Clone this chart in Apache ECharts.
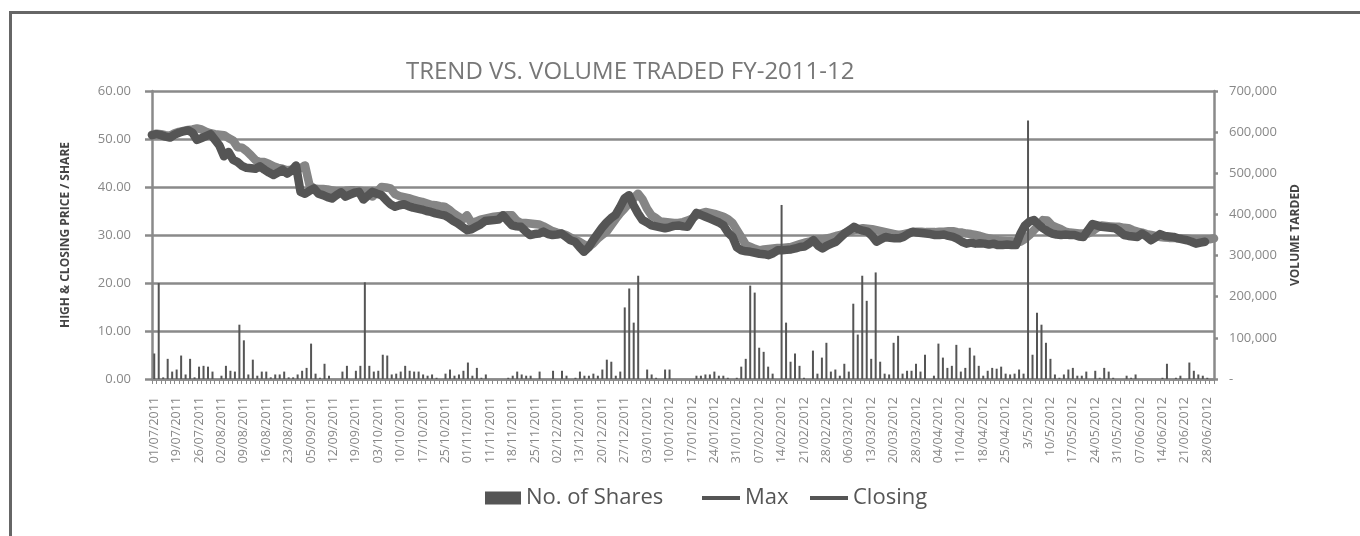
<!DOCTYPE html>
<html>
<head>
<meta charset="utf-8">
<title>Trend vs. Volume Traded FY-2011-12</title>
<script src="https://cdn.jsdelivr.net/npm/echarts@6/dist/echarts.min.js"></script>
<style>
  html, body { margin: 0; padding: 0; background: #fff; }
  #chart1 { width: 1360px; height: 536px; }
</style>
</head>
<body>
<div id="chart1"></div>
<script>
// dates shown on the axis (every 5th trading day)
var labelDates = ['01/07/2011', '19/07/2011', '26/07/2011', '02/08/2011', '09/08/2011', '16/08/2011',
    '23/08/2011', '05/09/2011', '12/09/2011', '19/09/2011', '03/10/2011', '10/10/2011', '17/10/2011',
    '25/10/2011', '01/11/2011', '11/11/2011', '18/11/2011', '25/11/2011', '02/12/2011', '13/12/2011',
    '20/12/2011', '27/12/2011', '03/01/2012', '10/01/2012', '17/01/2012', '24/01/2012', '31/01/2012',
    '07/02/2012', '14/02/2012', '21/02/2012', '28/02/2012', '06/03/2012', '13/03/2012', '20/03/2012',
    '28/03/2012', '04/04/2012', '11/04/2012', '18/04/2012', '25/04/2012', '3/5/2012', '10/5/2012',
    '17/05/2012', '24/05/2012', '31/05/2012', '07/06/2012', '14/06/2012', '21/06/2012', '28/06/2012'];

// No. of shares traded per day
var shares = [
    62000, 233000, 4000, 49000, 18000, 23000, 57000, 11000, 49000, 4000,
    30000, 32000, 30000, 18000, 0, 8000, 32000, 20000, 18000, 132000,
    94000, 11000, 47000, 8000, 18000, 18000, 4000, 11000, 11000, 18000,
    4000, 4000, 11000, 20000, 27000, 86000, 13000, 3000, 37000, 8000,
    0, 0, 18000, 32000, 0, 20000, 32000, 235000, 32000, 18000,
    20000, 59000, 57000, 11000, 13000, 18000, 32000, 20000, 18000, 18000,
    11000, 8000, 11000, 3000, 0, 13000, 23000, 8000, 11000, 20000,
    40000, 8000, 27000, 3000, 11000, 0, 0, 0, 0, 3000,
    8000, 18000, 11000, 8000, 8000, 0, 18000, 0, 0, 20000,
    0, 20000, 8000, 0, 3000, 18000, 8000, 8000, 13000, 8000,
    23000, 47000, 42000, 8000, 18000, 174000, 220000, 137000, 251000, 0,
    23000, 11000, 3000, 0, 23000, 23000, 0, 0, 0, 0,
    0, 8000, 8000, 11000, 11000, 18000, 8000, 8000, 3000, 0,
    3000, 30000, 49000, 227000, 210000, 76000, 66000, 30000, 13000, 0,
    423000, 137000, 42000, 62000, 32000, 3000, 0, 69000, 13000, 52000,
    88000, 18000, 23000, 8000, 37000, 18000, 183000, 108000, 251000, 190000,
    49000, 259000, 42000, 13000, 11000, 88000, 105000, 13000, 20000, 20000,
    37000, 18000, 59000, 0, 8000, 86000, 52000, 27000, 32000, 83000,
    18000, 27000, 76000, 57000, 32000, 8000, 20000, 27000, 25000, 30000,
    13000, 11000, 13000, 23000, 13000, 628000, 59000, 161000, 132000, 88000,
    49000, 11000, 3000, 11000, 23000, 27000, 8000, 8000, 18000, 0,
    20000, 3000, 27000, 18000, 3000, 0, 0, 8000, 3000, 11000,
    0, 0, 0, 0, 0, 3000, 37000, 0, 3000, 8000,
    0, 40000, 20000, 11000, 8000, 3000, 0
];

// daily high price
var maxPrice = [
    50.9, 51.1, 51.0, 50.8, 50.7, 51.2, 51.5, 51.7, 51.9, 52.0,
    52.2, 52.0, 51.5, 51.2, 51.0, 50.9, 50.8, 50.2, 49.7, 48.3,
    48.2, 47.5, 46.6, 45.6, 45.2, 45.2, 44.8, 44.3, 44.0, 43.8,
    43.5, 43.6, 43.7, 43.9, 44.5, 40.4, 39.7, 39.6, 39.6, 39.5,
    39.3, 39.1, 39.0, 39.2, 39.3, 39.3, 39.2, 39.1, 39.0, 38.0,
    39.0, 40.0, 39.9, 39.7, 38.5, 38.1, 37.9, 37.7, 37.4, 37.1,
    36.9, 36.6, 36.3, 36.2, 36.0, 35.9, 35.3, 34.5, 33.9, 33.2,
    34.1, 32.5, 32.8, 33.2, 33.4, 33.6, 33.8, 33.9, 34.0, 34.1,
    34.1, 33.0, 32.5, 32.5, 32.4, 32.3, 32.2, 31.8, 31.3, 30.8,
    30.5, 30.3, 30.0, 29.5, 29.0, 28.6, 28.0, 27.5, 28.2, 29.2,
    30.0, 30.7, 32.0, 33.3, 34.5, 35.5, 36.6, 37.6, 38.6, 37.4,
    35.5, 34.1, 33.5, 32.8, 32.7, 32.6, 32.5, 32.5, 32.7, 33.0,
    33.4, 34.1, 34.5, 34.8, 34.6, 34.4, 34.1, 33.8, 33.3, 32.5,
    31.0, 29.5, 27.9, 27.5, 27.1, 26.8, 27.0, 27.1, 27.2, 27.3,
    27.3, 27.4, 27.5, 27.8, 28.1, 28.4, 28.6, 28.9, 29.0, 29.1,
    29.3, 29.5, 29.8, 30.0, 30.4, 30.7, 31.0, 31.2, 31.4, 31.3,
    31.2, 31.0, 30.8, 30.6, 30.4, 30.2, 30.0, 30.2, 30.4, 30.6,
    30.7, 30.7, 30.6, 30.6, 30.6, 30.7, 30.7, 30.8, 30.8, 30.6,
    30.5, 30.3, 30.2, 30.0, 29.8, 29.5, 29.3, 29.1, 28.9, 28.8,
    28.7, 28.7, 28.6, 28.6, 29.2, 30.0, 31.0, 32.0, 33.1, 33.0,
    32.0, 31.6, 31.2, 30.7, 30.5, 30.4, 30.3, 30.3, 30.3, 30.8,
    31.5, 32.0, 31.9, 31.8, 31.7, 31.7, 31.5, 31.4, 31.0, 30.7,
    30.5, 30.2, 30.0, 29.8, 29.6, 29.5, 29.4, 29.4, 29.3, 29.3,
    29.2, 29.1, 29.0, 28.9, 29.0, 29.1, 29.3
];

// daily closing price
var closing = [
    50.8, 51.0, 50.8, 50.5, 50.3, 50.9, 51.3, 51.6, 51.8, 51.3,
    49.8, 50.2, 50.6, 51.0, 49.8, 48.6, 46.4, 47.3, 45.7, 45.2,
    44.4, 44.0, 43.9, 43.8, 44.3, 43.6, 43.0, 42.5, 43.0, 43.6,
    42.8, 43.4, 44.5, 39.0, 38.6, 39.2, 39.7, 38.6, 38.3, 37.9,
    37.6, 38.3, 38.9, 38.0, 38.4, 38.8, 39.0, 37.4, 38.2, 39.0,
    38.6, 38.3, 37.3, 36.4, 35.9, 36.2, 36.4, 36.0, 35.7, 35.5,
    35.3, 35.0, 34.8, 34.5, 34.3, 34.1, 33.6, 32.9, 32.4, 31.7,
    31.0, 31.2, 31.7, 32.2, 32.9, 33.0, 33.1, 33.2, 34.1, 33.0,
    32.0, 31.8, 31.7, 30.8, 30.0, 30.2, 30.3, 30.7, 30.2, 30.0,
    30.1, 30.3, 29.6, 28.9, 28.6, 27.5, 26.5, 27.4, 28.9, 30.2,
    31.5, 32.6, 33.5, 34.2, 35.8, 37.6, 38.3, 36.2, 34.5, 33.1,
    32.6, 32.0, 31.8, 31.6, 31.4, 31.6, 31.9, 32.0, 31.8, 31.7,
    33.2, 34.6, 34.2, 33.8, 33.4, 33.0, 32.6, 32.0, 30.5, 29.6,
    27.4, 26.8, 26.6, 26.5, 26.3, 26.1, 26.0, 25.8, 26.2, 26.8,
    26.8, 26.9, 27.0, 27.2, 27.5, 27.6, 28.2, 28.9, 27.8, 27.2,
    27.8, 28.2, 28.6, 29.5, 30.4, 31.0, 31.7, 31.2, 30.9, 30.7,
    29.8, 28.6, 29.1, 29.6, 29.4, 29.3, 29.3, 29.6, 30.2, 30.7,
    30.5, 30.4, 30.3, 30.2, 30.0, 30.0, 30.1, 29.8, 29.6, 29.2,
    28.6, 28.2, 28.4, 28.2, 28.3, 28.2, 28.0, 28.2, 27.9, 27.9,
    28.0, 27.9, 27.9, 30.3, 32.0, 32.8, 33.1, 32.2, 31.4, 30.8,
    30.3, 30.1, 30.0, 30.1, 30.0, 30.0, 29.7, 29.6, 31.0, 32.3,
    32.0, 31.7, 31.6, 31.5, 31.4, 30.8, 30.0, 29.8, 29.7, 29.6,
    30.3, 29.7, 28.9, 29.5, 30.2, 29.8, 29.7, 29.6, 29.3, 29.1,
    28.9, 28.6, 28.2, 28.4, 28.6, null, null
];

// trading days between the labelled ones (only used as category names)
function pad(n) { return (n < 10 ? '0' : '') + n; }
var categories = [];
labelDates.forEach(function (s, k) {
    categories.push(s);
    var p = s.split('/');
    var d = new Date(+p[2], +p[1] - 1, +p[0]);
    var extra = k === labelDates.length - 1 ? 1 : 4;
    for (var j = 0; j < extra; j++) {
        do { d.setDate(d.getDate() + 1); } while (d.getDay() === 0 || d.getDay() === 6);
        categories.push(pad(d.getDate()) + '/' + pad(d.getMonth() + 1) + '/' + d.getFullYear());
    }
});

var gray = '#8a8a8a';
var font = "'Open Sans', 'DejaVu Sans', sans-serif";
var lineIcon = 'path://M0,5 L38,5 L38,9 L0,9 Z';

var myChart1 = echarts.init(document.getElementById('chart1'));
myChart1.setOption({
    backgroundColor: '#fff',
    animation: false,
    textStyle: { fontFamily: font },
    title: {
        text: 'TREND VS. VOLUME TRADED FY-2011-12',
        left: 401,
        top: 55,
        textStyle: { fontSize: 24, fontWeight: 'normal', color: '#777', fontFamily: font }
    },
    graphic: [{
        type: 'polyline',
        shape: { points: [[10.5, 600], [10.5, 12.5], [1400, 12.5]] },
        style: { stroke: '#666', lineWidth: 3, fill: null }
    }],
    legend: [{
        data: ['No. of Shares'],
        left: 480, top: 482,
        icon: 'rect',
        itemWidth: 36, itemHeight: 13, itemGap: 4,
        textStyle: { fontSize: 22, color: '#555', fontFamily: font }
    }, {
        data: [{ name: 'Max', itemStyle: { color: '#555' } }],
        left: 697, top: 482,
        itemWidth: 38, itemHeight: 13, icon: lineIcon,
        textStyle: { fontSize: 22, color: '#555', fontFamily: font }
    }, {
        data: [{ name: 'Closing', itemStyle: { color: '#555' } }],
        left: 805, top: 482,
        itemWidth: 38, itemHeight: 13, icon: lineIcon,
        textStyle: { fontSize: 22, color: '#555', fontFamily: font }
    }],
    grid: { left: 152, right: 146, top: 91, bottom: 157 },
    xAxis: [{
        type: 'category',
        data: categories,
        boundaryGap: true,
        axisLine: { lineStyle: { color: gray, width: 2.5 } },
        axisTick: { show: true, interval: 0, length: 5, lineStyle: { color: gray, width: 1 } },
        axisLabel: { interval: 4, rotate: 90, margin: 18, fontSize: 12.5, color: '#888', fontFamily: font }
    }, {
        type: 'category',
        data: categories,
        boundaryGap: false,
        show: false
    }],
    yAxis: [{
        type: 'value',
        min: 0, max: 60, interval: 10,
        name: 'HIGH & CLOSING PRICE / SHARE',
        nameLocation: 'middle',
        nameGap: 80,
        nameTextStyle: { fontSize: 12, fontWeight: 'bold', color: '#444', fontFamily: font },
        axisLine: { show: true, lineStyle: { color: gray, width: 2.5 } },
        axisTick: { show: true, length: 7, lineStyle: { color: gray, width: 2.5 } },
        splitLine: { lineStyle: { color: gray, width: 2.5 } },
        axisLabel: {
            margin: 21, fontSize: 13, color: '#888', fontFamily: font,
            formatter: function (v) { return v.toFixed(2); }
        }
    }, {
        type: 'value',
        min: 0, max: 700000, interval: 100000,
        position: 'right',
        name: 'VOLUME TARDED',
        nameLocation: 'middle',
        nameGap: 76,
        nameTextStyle: { fontSize: 12, fontWeight: 'bold', color: '#444', fontFamily: font },
        axisLine: { show: true, lineStyle: { color: gray, width: 2.5 } },
        axisTick: { show: true, length: 4, lineStyle: { color: gray, width: 2.5 } },
        splitLine: { show: false },
        axisLabel: {
            margin: 15, fontSize: 13, color: '#888', fontFamily: font,
            formatter: function (v) { return v === 0 ? '-' : v.toLocaleString('en-US'); }
        }
    }],
    series: [{
        name: 'Max',
        type: 'line',
        xAxisIndex: 1,
        yAxisIndex: 0,
        data: maxPrice,
        showSymbol: false,
        z: 2,
        itemStyle: { color: '#858585' },
        lineStyle: { color: '#858585', width: 8.5, cap: 'round', join: 'round' }
    }, {
        name: 'Closing',
        type: 'line',
        xAxisIndex: 1,
        yAxisIndex: 0,
        data: closing,
        showSymbol: false,
        z: 3,
        itemStyle: { color: '#555' },
        lineStyle: { color: '#555', width: 8.5, cap: 'round', join: 'round' }
    }, {
        name: 'No. of Shares',
        type: 'bar',
        xAxisIndex: 0,
        yAxisIndex: 1,
        data: shares,
        barWidth: 2,
        z: 4,
        itemStyle: { color: '#555' }
    }]
});
</script>
</body>
</html>
